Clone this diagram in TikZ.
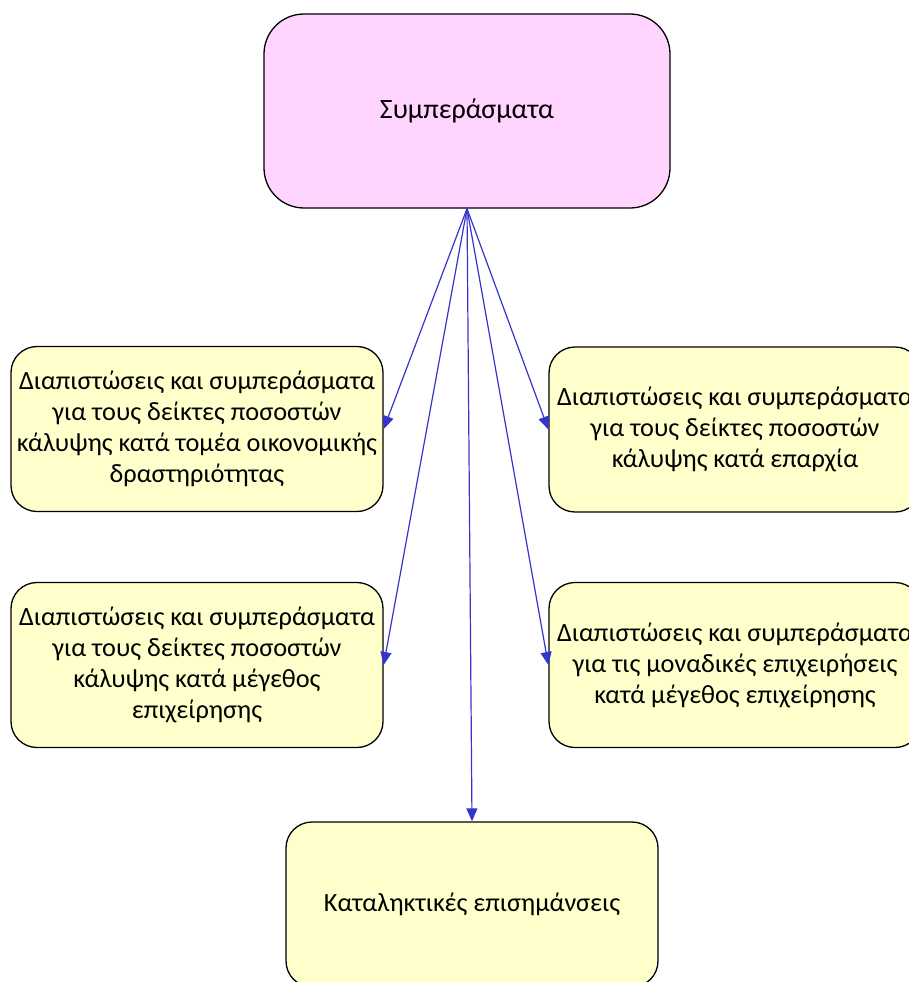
\documentclass[tikz,border=0pt]{standalone}
\usepackage{fontspec}
\setmainfont{Carlito}
\usetikzlibrary{positioning,arrows.meta}

\begin{document}
\begin{tikzpicture}[x=1pt,y=1pt,font=\fontsize{26.3}{31}\selectfont]
  \tikzset{
    box/.style={draw,line width=1.3pt,align=center,inner sep=0pt},
    head/.style={box,fill=headpink,rounded corners=40pt,minimum width=406pt,minimum height=194pt,font=\fontsize{28}{33}\selectfont},
    part/.style={box,fill=partyellow,rounded corners=26pt,minimum width=372pt,minimum height=165pt},
    >={Triangle[length=13pt,width=11pt]}
  }
  \definecolor{headpink}{HTML}{FFD5FF}
  \definecolor{partyellow}{HTML}{FFFFCC}
  \definecolor{linkblue}{HTML}{3535CC}
  \clip (0,0) rectangle (909,-982);
  \node[head] (concl) at (467,-111) {Συμπεράσματα};
  \node[part] (sector) at (197,-429)
     {Διαπιστώσεις και συμπεράσματα\\για τους δείκτες ποσοστών\\κάλυψης κατά τομέα οικονομικής\\δραστηριότητας};
  \node[part] (district) at (735,-429.5)
     {Διαπιστώσεις και συμπεράσματα\\για τους δείκτες ποσοστών\\κάλυψης κατά επαρχία};
  \node[part] (size) at (197,-665)
     {Διαπιστώσεις και συμπεράσματα\\για τους δείκτες ποσοστών\\κάλυψης κατά μέγεθος\\επιχείρησης};
  \node[part] (single) at (735,-665)
     {Διαπιστώσεις και συμπεράσματα\\για τις μοναδικές επιχειρήσεις\\κατά μέγεθος επιχείρησης};
  \node[part] (final) at (472,-904.5) {Καταληκτικές επισημάνσεις};
  \draw[->,linkblue,line width=1.2pt] (concl.south) -- (sector.east);
  \draw[->,linkblue,line width=1.2pt] (concl.south) -- (district.west);
  \draw[->,linkblue,line width=1.2pt] (concl.south) -- (size.east);
  \draw[->,linkblue,line width=1.2pt] (concl.south) -- (single.west);
  \draw[->,linkblue,line width=1.2pt] (concl.south) -- (final.north);
\end{tikzpicture}
\end{document}
